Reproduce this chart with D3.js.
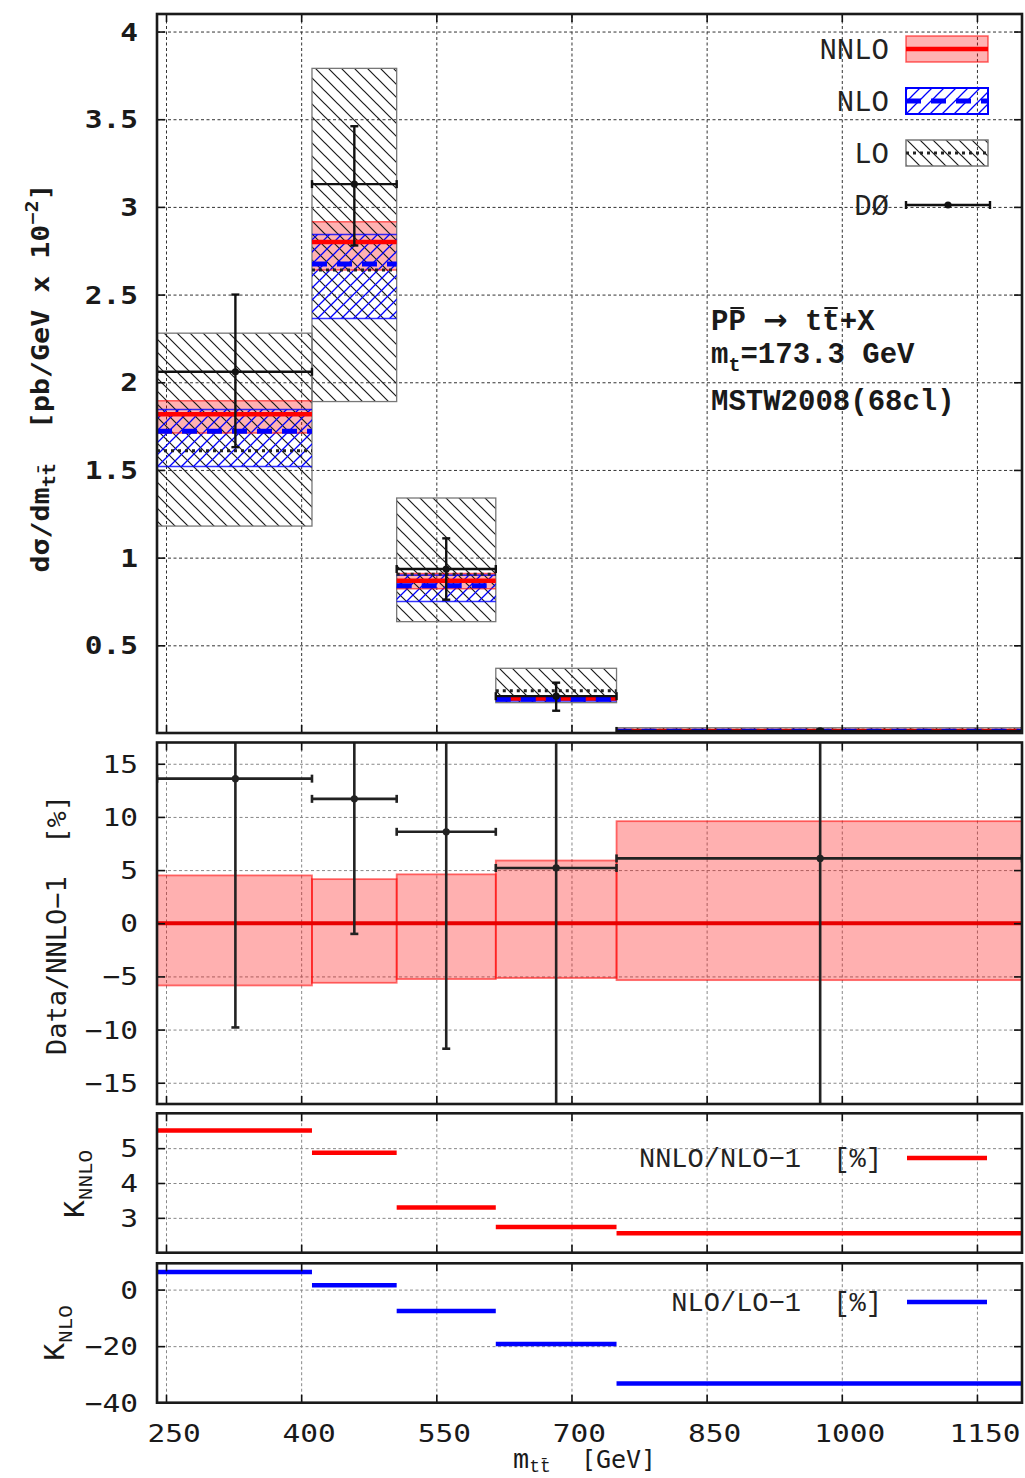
<!DOCTYPE html>
<html>
<head>
<meta charset="utf-8">
<script src="https://cdn.jsdelivr.net/npm/d3@7"></script>
<style>
  html, body { margin: 0; padding: 0; background: #fff; }
  svg { display: block; }
</style>
</head>
<body>
<svg id="chart" width="1025" height="1478"></svg>
<script>
// ---------- data ----------
// m_tt bin edges [GeV] and D0 data point positions
const binEdges = [240, 412, 506, 616, 750, 1200];
const massTicks = [250, 400, 550, 700, 850, 1000, 1150];
const d0Mass = [327, 459, 561, 683, 976];

// dsigma/dm_tt [pb/GeV x 1e-2]
const loCentral = [1.61, 2.64, 0.905, 0.241, 0.015];
const loLow = [1.18, 1.89, 0.635, 0.173, 0.008];
const loHigh = [2.28, 3.79, 1.34, 0.369, 0.03];
const nloCentral = [1.72, 2.674, 0.84, 0.193, 0.0105];
const nloLow = [1.52, 2.364, 0.75, 0.183, 0.007];
const nloHigh = [1.845, 2.843, 0.90, 0.203, 0.013];
const nnloCentral = [1.817, 2.80, 0.868, 0.198, 0.011];
const nnloLow = [1.71, 2.64, 0.822, 0.188, 0.0104];
const nnloHigh = [1.895, 2.915, 0.91, 0.21, 0.0116];
const d0Value = [2.06, 3.13, 0.935, 0.21, 0.0117];
const d0Low = [1.63, 2.78, 0.76, 0.127, 0.004];
const d0High = [2.50, 3.46, 1.11, 0.287, 0.02];

// Data/NNLO-1 [%]
const ratioBandLow = [-5.85, -5.6, -5.25, -5.15, -5.35];
const ratioBandHigh = [4.5, 4.15, 4.6, 5.9, 9.6];
const ratioData = [13.6, 11.7, 8.6, 5.2, 6.1];
const ratioDataLow = [-9.8, -1.0, -11.8, -40, -60];
const ratioDataHigh = [38, 24, 28, 40, 70];

// K factors [%]
const kNNLO = [5.51, 4.87, 3.30, 2.74, 2.56];
const kNLO = [6.2, 1.5, -7.6, -19.2, -33.2];

// tick values
const topTicks = [0.5, 1, 1.5, 2, 2.5, 3, 3.5, 4];
const ratioTicks = [-15, -10, -5, 0, 5, 10, 15];
const kNNLOTicks = [3, 4, 5];
const kNLOTicks = [-40, -20, 0];

const legendLabels = ["NNLO", "NLO", "LO", "D\u00D8"];

// ---------- layout ----------
const X0 = 157, X1 = 1022;
const LABEL_X = 138;
const SX = 1.18;             // horizontal stretch of the monospace labels
const SANS = "'DejaVu Sans Mono', monospace";
const COUR = "'Liberation Mono', 'Courier New', monospace";
const RED = "#ff0000", BLUE = "#0000ff", INK = "#111";
const NB = "\u00A0";         // non-collapsing space

const svg = d3.select("#chart");
const defs = svg.append("defs");

const x = d3.scaleLinear().domain([240, 1200]).range([X0, X1]);
const bins = d3.range(binEdges.length - 1);
const fmt = v => String(v).replace("-", "\u2212");

// hatch fills
defs.append("pattern").attr("id", "hatchLO")
  .attr("patternUnits", "userSpaceOnUse").attr("width", 13).attr("height", 13)
  .append("path").attr("d", "M-3,-3L16,16M-3,10L3,16M10,-3L16,3")
  .attr("stroke", "#1a1a1a").attr("stroke-width", 1.2);
defs.append("pattern").attr("id", "hatchNLO")
  .attr("patternUnits", "userSpaceOnUse").attr("width", 12).attr("height", 12)
  .append("path").attr("d", "M-3,15L15,-3M-3,3L3,-3M9,15L15,9")
  .attr("stroke", BLUE).attr("stroke-width", 1.3);

function makePanel(cfg) {
  const y = d3.scaleLinear().domain(cfg.domain).range([cfg.y1, cfg.y0]);
  const g = svg.append("g");
  const grid = g.append("g");
  grid.append("g").attr("transform", `translate(${X0},0)`)
    .call(d3.axisLeft(y).tickValues(cfg.ticks).tickSize(-(X1 - X0)).tickFormat(""))
    .call(s => s.select(".domain").remove());
  grid.append("g").attr("transform", `translate(0,${cfg.y1})`)
    .call(d3.axisBottom(x).tickValues(massTicks).tickSize(-(cfg.y1 - cfg.y0)).tickFormat(""))
    .call(s => s.select(".domain").remove());
  grid.selectAll("line").attr("stroke", cfg.gridColor).attr("stroke-width", 1)
    .attr("stroke-dasharray", "3,2.5");

  const clipId = "clip-" + cfg.id;
  defs.append("clipPath").attr("id", clipId).append("rect")
    .attr("x", X0).attr("y", cfg.y0).attr("width", X1 - X0).attr("height", cfg.y1 - cfg.y0);
  const plot = g.append("g").attr("clip-path", `url(#${clipId})`);
  return { y, g, plot, cfg };
}

function finishPanel(p) {
  const { y, g, cfg } = p;
  const axes = g.append("g");
  axes.append("g").attr("transform", `translate(${X0},0)`)
    .call(d3.axisLeft(y).tickValues(cfg.ticks).tickSize(-8).tickFormat(""));
  axes.append("g").attr("transform", `translate(${X1},0)`)
    .call(d3.axisRight(y).tickValues(cfg.ticks).tickSize(-8).tickFormat(""));
  axes.append("g").attr("transform", `translate(0,${cfg.y1})`)
    .call(d3.axisBottom(x).tickValues(massTicks).tickSize(-8).tickFormat(""));
  axes.append("g").attr("transform", `translate(0,${cfg.y0})`)
    .call(d3.axisTop(x).tickValues(massTicks).tickSize(-8).tickFormat(""));
  axes.selectAll(".domain").remove();
  axes.selectAll("line").attr("stroke", INK).attr("stroke-width", 1.6);

  g.append("rect").attr("x", X0).attr("y", cfg.y0)
    .attr("width", X1 - X0).attr("height", cfg.y1 - cfg.y0)
    .attr("fill", "none").attr("stroke", "#1a1a1a").attr("stroke-width", 2.6);

  g.append("g").selectAll("text").data(cfg.ticks).join("text")
    .attr("transform", d => `translate(${LABEL_X},${y(d)}) scale(${SX},1)`)
    .attr("text-anchor", "end").attr("dy", "0.36em")
    .attr("font-family", SANS).attr("font-size", 25)
    .attr("font-weight", cfg.boldLabels ? "bold" : "normal")
    .attr("fill", "#1a1a1a")
    .text(fmt);
}

// horizontal segment per bin
function binSegments(parent, y, values, style) {
  return parent.append("g").selectAll("line").data(bins).join("line")
    .attr("x1", i => x(binEdges[i])).attr("x2", i => x(binEdges[i + 1]))
    .attr("y1", i => y(values[i])).attr("y2", i => y(values[i]))
    .call(style);
}

function binRects(parent, y, low, high, style) {
  return parent.append("g").selectAll("rect").data(bins).join("rect")
    .attr("x", i => x(binEdges[i])).attr("width", i => x(binEdges[i + 1]) - x(binEdges[i]))
    .attr("y", i => y(high[i])).attr("height", i => y(low[i]) - y(high[i]))
    .call(style);
}

function dataPoints(parent, y, vals, lows, highs, w, color) {
  const gd = parent.append("g").attr("stroke", color).attr("stroke-width", w).attr("fill", color);
  const pts = gd.selectAll("g").data(bins).join("g");
  pts.append("line")
    .attr("x1", i => x(binEdges[i])).attr("x2", i => x(binEdges[i + 1]))
    .attr("y1", i => y(vals[i])).attr("y2", i => y(vals[i]));
  pts.append("line")
    .attr("x1", i => x(binEdges[i])).attr("x2", i => x(binEdges[i]))
    .attr("y1", i => y(vals[i]) - 4).attr("y2", i => y(vals[i]) + 4);
  pts.append("line")
    .attr("x1", i => x(binEdges[i + 1])).attr("x2", i => x(binEdges[i + 1]))
    .attr("y1", i => y(vals[i]) - 4).attr("y2", i => y(vals[i]) + 4);
  pts.append("line")
    .attr("x1", i => x(d0Mass[i])).attr("x2", i => x(d0Mass[i]))
    .attr("y1", i => y(lows[i])).attr("y2", i => y(highs[i]));
  pts.append("line")
    .attr("x1", i => x(d0Mass[i]) - 4).attr("x2", i => x(d0Mass[i]) + 4)
    .attr("y1", i => y(lows[i])).attr("y2", i => y(lows[i]));
  pts.append("line")
    .attr("x1", i => x(d0Mass[i]) - 4).attr("x2", i => x(d0Mass[i]) + 4)
    .attr("y1", i => y(highs[i])).attr("y2", i => y(highs[i]));
  pts.append("circle").attr("stroke", "none")
    .attr("cx", i => x(d0Mass[i])).attr("cy", i => y(vals[i])).attr("r", 3.6);
}

// ---------- top panel: cross section ----------
const xsecPanel = makePanel({ id: "xsec", y0: 14, y1: 733, domain: [0, 4.1], ticks: topTicks,
  gridColor: "#333", boldLabels: true });
const yT = xsecPanel.y;
const pT = xsecPanel.plot;

binRects(pT, yT, nnloLow, nnloHigh, s => s.attr("fill", RED).attr("fill-opacity", 0.3));
binRects(pT, yT, loLow, loHigh, s => s.attr("fill", "url(#hatchLO)")
  .attr("stroke", "#777").attr("stroke-width", 1.3));
binRects(pT, yT, nloLow, nloHigh, s => s.attr("fill", "url(#hatchNLO)"));
binSegments(pT, yT, nloLow, s => s.attr("stroke", BLUE).attr("stroke-width", 1.6).attr("stroke-opacity", 0.8));
binSegments(pT, yT, nloHigh, s => s.attr("stroke", BLUE).attr("stroke-width", 1.6).attr("stroke-opacity", 0.8));
binSegments(pT, yT, nnloLow, s => s.attr("stroke", RED).attr("stroke-width", 1.5).attr("stroke-opacity", 0.6));
binSegments(pT, yT, nnloHigh, s => s.attr("stroke", RED).attr("stroke-width", 1.5).attr("stroke-opacity", 0.6));
binSegments(pT, yT, loCentral, s => s.attr("stroke", "#222").attr("stroke-width", 3)
  .attr("stroke-dasharray", "3,4"));
binSegments(pT, yT, nnloCentral, s => s.attr("stroke", RED).attr("stroke-width", 4.5));
binSegments(pT, yT, nloCentral, s => s.attr("stroke", BLUE).attr("stroke-width", 5)
  .attr("stroke-dasharray", "15,10"));
dataPoints(pT, yT, d0Value, d0Low, d0High, 2.4, INK);
finishPanel(xsecPanel);

// legend
const legX0 = 906, legX1 = 988, legTextX = 889;
const legRows = [49, 101, 153, 205];
const leg = svg.append("g");
leg.selectAll("text").data(legendLabels).join("text")
  .attr("x", legTextX).attr("y", (d, i) => legRows[i]).attr("dy", "0.35em")
  .attr("text-anchor", "end").attr("font-family", COUR).attr("font-size", 29)
  .attr("fill", "#222").text(d => d);
// NNLO sample
leg.append("rect").attr("x", legX0).attr("y", legRows[0] - 13).attr("width", legX1 - legX0).attr("height", 26)
  .attr("fill", RED).attr("fill-opacity", 0.3).attr("stroke", RED).attr("stroke-opacity", 0.6).attr("stroke-width", 1.5);
leg.append("line").attr("x1", legX0).attr("x2", legX1).attr("y1", legRows[0]).attr("y2", legRows[0])
  .attr("stroke", RED).attr("stroke-width", 4.5);
// NLO sample
leg.append("rect").attr("x", legX0).attr("y", legRows[1] - 13).attr("width", legX1 - legX0).attr("height", 26)
  .attr("fill", "url(#hatchNLO)").attr("stroke", BLUE).attr("stroke-width", 2);
leg.append("line").attr("x1", legX0).attr("x2", legX1).attr("y1", legRows[1]).attr("y2", legRows[1])
  .attr("stroke", BLUE).attr("stroke-width", 5).attr("stroke-dasharray", "15,10");
// LO sample
leg.append("rect").attr("x", legX0).attr("y", legRows[2] - 13).attr("width", legX1 - legX0).attr("height", 26)
  .attr("fill", "url(#hatchLO)").attr("stroke", "#777").attr("stroke-width", 1.5);
leg.append("line").attr("x1", legX0).attr("x2", legX1).attr("y1", legRows[2]).attr("y2", legRows[2])
  .attr("stroke", "#222").attr("stroke-width", 3).attr("stroke-dasharray", "3,4");
// D0 sample
const d0Leg = leg.append("g").attr("stroke", INK).attr("stroke-width", 2.4);
d0Leg.append("line").attr("x1", legX0).attr("x2", legX1 + 2).attr("y1", legRows[3]).attr("y2", legRows[3]);
d0Leg.append("line").attr("x1", legX0).attr("x2", legX0).attr("y1", legRows[3] - 4).attr("y2", legRows[3] + 4);
d0Leg.append("line").attr("x1", legX1 + 2).attr("x2", legX1 + 2).attr("y1", legRows[3] - 4).attr("y2", legRows[3] + 4);
d0Leg.append("circle").attr("cx", (legX0 + legX1) / 2 + 1).attr("cy", legRows[3]).attr("r", 3.6)
  .attr("fill", INK).attr("stroke", "none");

// process annotation
const ann = svg.append("g").attr("font-family", COUR).attr("font-weight", "bold")
  .attr("font-size", 29).attr("fill", "#1a1a1a");
const proc = ann.append("text").attr("x", 711).attr("y", 330);
proc.append("tspan").text("PP" + NB);
proc.append("tspan").attr("font-family", "'DejaVu Sans', sans-serif").text("\u2192");
proc.append("tspan").text(NB + "tt+X");
const mt = ann.append("text").attr("x", 711).attr("y", 363);
mt.append("tspan").text("m");
mt.append("tspan").attr("font-size", 20).attr("dy", 8).text("t");
mt.append("tspan").attr("dy", -8).text("=173.3" + NB + "GeV");
ann.append("text").attr("x", 711).attr("y", 410).text("MSTW2008(68cl)");
// overbars on the antiparticles
[1, 6].forEach(ci => {
  const n = proc.node();
  const a = n.getStartPositionOfChar(ci), b = n.getEndPositionOfChar(ci);
  ann.append("line").attr("x1", a.x + 2).attr("x2", b.x - 2).attr("y1", 330 - 22).attr("y2", 330 - 22)
    .attr("stroke", "#1a1a1a").attr("stroke-width", 2);
});

// y title (top)
const yTitle = svg.append("text")
  .attr("transform", `translate(49,378) rotate(-90) scale(${SX},1)`)
  .attr("text-anchor", "middle").attr("font-family", SANS).attr("font-weight", "bold")
  .attr("font-size", 24).attr("fill", "#1a1a1a");
yTitle.append("tspan").text("d\u03C3/dm");
yTitle.append("tspan").attr("font-size", 17).attr("dy", 6).text("tt\u0304");
yTitle.append("tspan").attr("dy", -6).text(NB + NB + "[pb/GeV" + NB + "x" + NB + "10");
yTitle.append("tspan").attr("font-size", 17).attr("dy", -11).text("\u22122");
yTitle.append("tspan").attr("dy", 11).text("]");

// ---------- ratio panel ----------
const rat = makePanel({ id: "ratio", y0: 742.5, y1: 1104, domain: [-17, 17], ticks: ratioTicks,
  gridColor: "#888" });
const yR = rat.y;
binRects(rat.plot, yR, ratioBandLow, ratioBandHigh, s => s.attr("fill", RED).attr("fill-opacity", 0.31)
  .attr("stroke", RED).attr("stroke-opacity", 0.55).attr("stroke-width", 1.8));
rat.plot.append("line").attr("x1", X0).attr("x2", X1).attr("y1", yR(0)).attr("y2", yR(0))
  .attr("stroke", "#e80000").attr("stroke-width", 4);
dataPoints(rat.plot, yR, ratioData, ratioDataLow, ratioDataHigh, 2.6, "#222");
finishPanel(rat);

svg.append("text").attr("transform", "translate(66,925) rotate(-90)")
  .attr("text-anchor", "middle").attr("font-family", SANS).attr("font-size", 27)
  .attr("fill", "#1a1a1a").text("Data/NNLO\u22121" + NB + NB + "[%]");

// ---------- K_NNLO panel ----------
const kn = makePanel({ id: "knnlo", y0: 1113.3, y1: 1252.7, domain: [2, 6], ticks: kNNLOTicks,
  gridColor: "#888" });
binSegments(kn.plot, kn.y, kNNLO, s => s.attr("stroke", RED).attr("stroke-width", 4.5));
finishPanel(kn);

// ---------- K_NLO panel ----------
const kl = makePanel({ id: "knlo", y0: 1263.3, y1: 1402.7, domain: [-40, 9.3], ticks: kNLOTicks,
  gridColor: "#888" });
binSegments(kl.plot, kl.y, kNLO, s => s.attr("stroke", BLUE).attr("stroke-width", 4.5));
finishPanel(kl);

// K panel legends
[["NNLO/NLO\u22121" + NB + NB + "[%]", RED, 1158], ["NLO/LO\u22121" + NB + NB + "[%]", BLUE, 1302]].forEach(([label, col, yy]) => {
  svg.append("text").attr("x", 882).attr("y", yy).attr("dy", "0.35em").attr("text-anchor", "end")
    .attr("font-family", COUR).attr("font-size", 27).attr("fill", "#222").text(label);
  svg.append("line").attr("x1", 907).attr("x2", 987).attr("y1", yy).attr("y2", yy)
    .attr("stroke", col).attr("stroke-width", 4.5);
});

// K axis titles
[[84, 1184, "NNLO"], [64, 1333, "NLO"]].forEach(([tx, ty, sub]) => {
  const t = svg.append("text").attr("transform", `translate(${tx},${ty}) rotate(-90)`)
    .attr("text-anchor", "middle").attr("font-family", COUR).attr("font-size", 30).attr("fill", "#1a1a1a");
  t.append("tspan").text("K");
  t.append("tspan").attr("font-size", 21).attr("dy", 8).text(sub);
});

// ---------- x axis labels ----------
svg.append("g").selectAll("text").data(massTicks).join("text")
  .attr("transform", d => `translate(${x(d) + 8},1442) scale(${SX},1)`)
  .attr("text-anchor", "middle").attr("font-family", SANS).attr("font-size", 25)
  .attr("fill", "#1a1a1a").text(fmt);

const xTitle = svg.append("text").attr("x", 513).attr("y", 1468)
  .attr("font-family", SANS).attr("font-size", 25).attr("fill", "#1a1a1a");
xTitle.append("tspan").attr("font-family", COUR).attr("font-size", 27).text("m");
xTitle.append("tspan").attr("font-family", COUR).attr("font-size", 18).attr("dy", 4).text("tt\u0304");
xTitle.append("tspan").attr("dy", -4).text(NB + NB + "[GeV]");
</script>
</body>
</html>
